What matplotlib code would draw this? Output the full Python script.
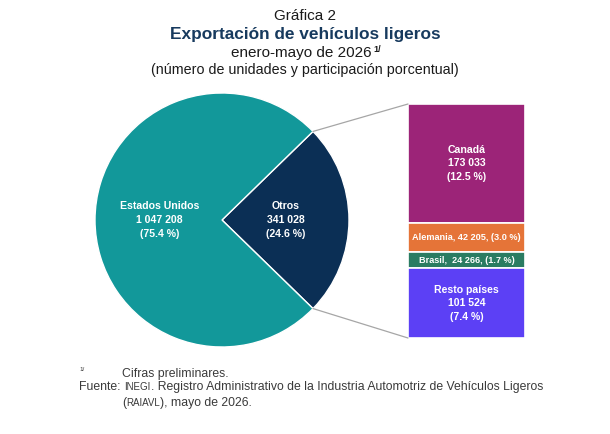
import matplotlib
matplotlib.use("Agg")
import matplotlib.pyplot as plt
from matplotlib.patches import ConnectionPatch
import numpy as np

plt.rcParams['font.family'] = ['Liberation Sans', 'DejaVu Sans']

W, H = 610, 434

# data
pie_labels = ["Estados Unidos", "Otros"]
pie_values = [1047208, 341028]
pie_pct = [75.4, 24.6]
pie_colors = ["#12989a", "#0b2f55"]

bar_labels = ["Canadá", "Alemania", "Brasil", "Resto países"]
bar_values = [173033, 42205, 24266, 101524]
bar_pct = [12.5, 3.0, 1.7, 7.4]
bar_colors = ["#9c2478", "#e57438", "#2a7c62", "#5c40f5"]


def fmt(n):
    return f"{n:,}".replace(",", " ")


def px_axes(fig, x0, y0, x1, y1):
    # pixel box (top-left origin) -> axes
    return fig.add_axes([x0 / W, 1 - y1 / H, (x1 - x0) / W, (y1 - y0) / H])


def run(fig, x, y, pieces, ha="left"):
    """Place consecutive text pieces on one baseline, x,y in pixels (top-left origin)."""
    r = fig.canvas.get_renderer()
    items = []
    total = 0
    for s, kw in pieces:
        kw = dict(kw)
        dy = kw.pop("dy", 0)
        gap = kw.pop("gap", 0)
        t = fig.text(0, 0, s, va="baseline", **kw)
        w = t.get_window_extent(r).width + gap
        items.append((t, w, dy))
        total += w
    cx = x - total / 2 if ha == "center" else x
    for t, w, dy in items:
        t.set_position((cx / W, 1 - (y - dy) / H))
        cx += w


fig = plt.figure(figsize=(W / 100, H / 100), dpi=100)
fig.patch.set_facecolor("white")

# pie
ax = px_axes(fig, 95, 93, 349, 347)
half = pie_values[1] / sum(pie_values) * 180
wedges, _ = ax.pie(pie_values[::-1], colors=pie_colors[::-1], startangle=-half,
                   counterclock=True, radius=1,
                   wedgeprops=dict(edgecolor="white", linewidth=1))
ax.set_xlim(-1, 1)
ax.set_ylim(-1, 1)
ax.set_aspect("equal")
ax.axis("off")

lkw = dict(ha="center", va="center", color="white", fontsize=7.6, fontweight="bold",
           linespacing=1.45)
ax.text(-0.49, 0, f"{pie_labels[0]}\n{fmt(pie_values[0])}\n({pie_pct[0]} %)", **lkw)
ax.text(0.5, 0, f"{pie_labels[1]}\n{fmt(pie_values[1])}\n({pie_pct[1]} %)", **lkw)

# stacked bar for "Otros"
bx = px_axes(fig, 408, 104, 525, 338)
total = sum(bar_values)
bottom = total
mids = []
for v, c in zip(bar_values, bar_colors):
    bottom -= v
    bx.bar(0.5, v, bottom=bottom, width=1, color=c, edgecolor="white", linewidth=1.2)
    mids.append(bottom + v / 2)
bx.set_xlim(0, 1)
bx.set_ylim(0, total)
bx.axis("off")

tkw = dict(ha="center", va="center", color="white", fontweight="bold")
bx.text(0.5, mids[0], f"{bar_labels[0]}\n{fmt(bar_values[0])}\n({bar_pct[0]} %)",
        fontsize=7.6, linespacing=1.45, **tkw)
bx.text(0.5, mids[1], f"{bar_labels[1]}, {fmt(bar_values[1])}, ({bar_pct[1]} %)",
        fontsize=6.6, **tkw)
bx.text(0.5, mids[2], f"{bar_labels[2]},  {fmt(bar_values[2])}, ({bar_pct[2]} %)",
        fontsize=6.6, **tkw)
bx.text(0.5, mids[3], f"{bar_labels[3]}\n{fmt(bar_values[3])}\n({bar_pct[3]} %)",
        fontsize=7.6, linespacing=1.45, **tkw)

# connection lines
ang = np.deg2rad(half)
for yb, s in [(total, 1), (0, -1)]:
    con = ConnectionPatch(xyA=(np.cos(ang), s * np.sin(ang)), coordsA=ax.transData,
                          xyB=(0, yb), coordsB=bx.transData,
                          color="#a6a6a6", linewidth=0.9)
    fig.add_artist(con)

# titles
fig.text(0.5, 1 - 16 / H, "Gráfica 2", ha="center", va="center", fontsize=11, color="#1a1a1a")
fig.text(0.5, 1 - 34 / H, "Exportación de vehículos ligeros", ha="center", va="center",
         fontsize=12.4, fontweight="bold", color="#173a5e")
run(fig, 306, 57, [("enero-mayo de 2026", dict(fontsize=11, color="#1a1a1a", gap=1)),
                   ("1/", dict(fontsize=6.5, fontweight="bold", color="#1a1a1a", dy=5))],
    ha="center")
fig.text(0.5, 1 - 70 / H, "(número de unidades y participación porcentual)", ha="center",
         va="center", fontsize=10.3, color="#1a1a1a")

# footnotes
gray = "#3a3a3a"
fig.text(79 / W, 1 - 371 / H, "1/", fontsize=4.5, color=gray, va="baseline")
fig.text(122 / W, 1 - 377 / H, "Cifras preliminares.", fontsize=8.8, color=gray, va="baseline")
run(fig, 79, 390, [("Fuente:", dict(fontsize=8.8, color=gray, gap=4)),
                   ("INEGI", dict(fontsize=7, color=gray)),
                   (". Registro Administrativo de la Industria Automotriz de Vehículos Ligeros",
                    dict(fontsize=8.8, color=gray))])
run(fig, 122, 406, [("(", dict(fontsize=8.8, color=gray)),
                    ("RAIAVL", dict(fontsize=7, color=gray)),
                    ("), mayo de 2026.", dict(fontsize=8.8, color=gray))])

fig.savefig("out.png", dpi=100, facecolor="white")
